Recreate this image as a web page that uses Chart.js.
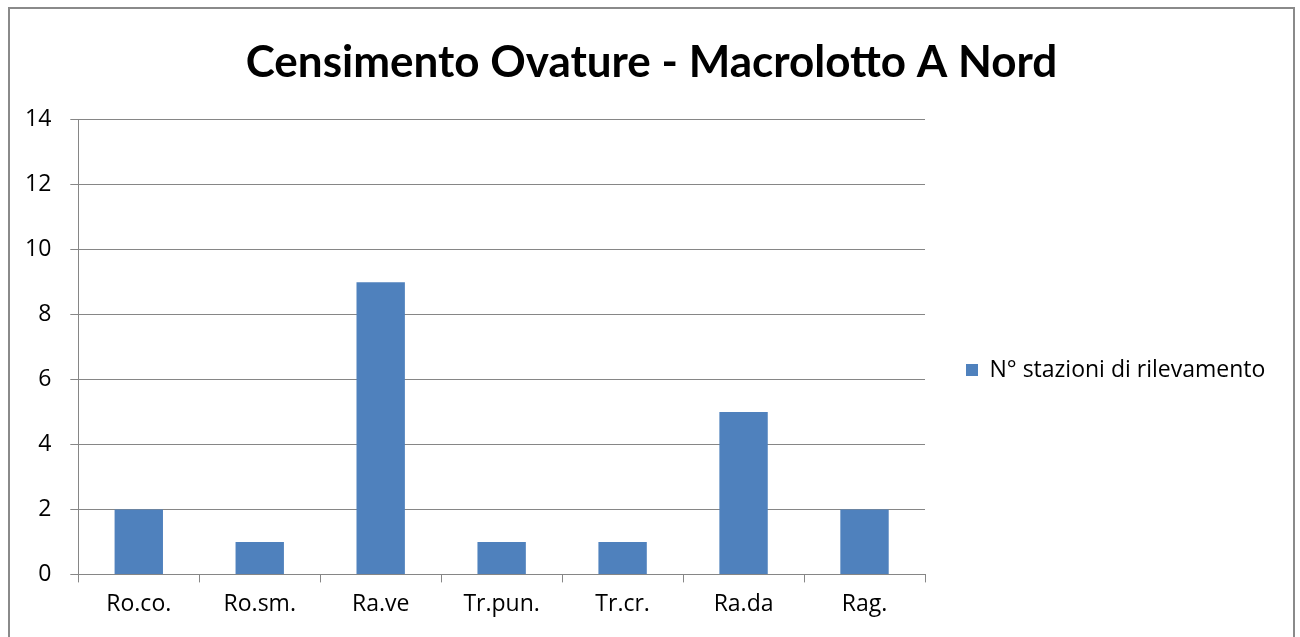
<!DOCTYPE html>
<html>
<head>
<meta charset="utf-8">
<script src="https://cdn.jsdelivr.net/npm/chart.js@4"></script>
<style>
  html, body { margin: 0; padding: 0; background: #fff; }
  #wrap { position: relative; width: 1300px; height: 637px; }
</style>
</head>
<body>
<div id="wrap"><canvas id="grafico" width="1300" height="637"></canvas></div>
<script>
// dati del censimento
const categorie = ["Ro.co.", "Ro.sm.", "Ra.ve", "Tr.pun.", "Tr.cr.", "Ra.da", "Rag."];
const stazioni = [2, 1, 9, 1, 1, 5, 2];
const nomeSerie = "N° stazioni di rilevamento";
const titolo = "Censimento Ovature - Macrolotto A Nord";

const grigio = "#868686";
const font = "'Open Sans', 'Noto Sans', sans-serif";

// cornice esterna del grafico
const cornice = {
  id: "cornice",
  afterDraw: function (chart) {
    const ctx = chart.ctx;
    ctx.save();
    ctx.strokeStyle = "#8a8a8a";
    ctx.lineWidth = 2;
    ctx.strokeRect(9, 8, 1285, 700);
    ctx.restore();
  }
};

// legenda: larghezza fissa e spostata come nell'originale
const legendaFissa = {
  id: "legendaFissa",
  afterInit: function (chart) {
    const leg = chart.legend;
    const fitOrig = leg.fit.bind(leg);
    leg.fit = function () {
      fitOrig();
      this.width = 350;
    };
  },
  afterLayout: function (chart) {
    const leg = chart.legend;
    leg.left += 31;
    leg.right += 31;
    leg.top += 57;
    leg.bottom += 57;
    // titolo centrato sulla cornice
    const tit = chart.titleBlock;
    tit.left += 11;
    tit.right += 11;
  }
};

Chart.defaults.font.family = font;
Chart.defaults.color = "#000";

new Chart(document.getElementById("grafico"), {
  type: "bar",
  data: {
    labels: categorie,
    datasets: [{
      label: nomeSerie,
      data: stazioni,
      backgroundColor: "#4F81BD",
      borderWidth: 0,
      barPercentage: 0.5,
      categoryPercentage: 0.8
    }]
  },
  options: {
    responsive: false,
    animation: false,
    layout: { padding: { left: 6, right: 25, top: 0, bottom: 11 } },
    plugins: {
      title: {
        display: true,
        text: titolo,
        font: { size: 44, weight: "bold", family: "Lato, sans-serif" },
        color: "#000",
        padding: { top: 36, bottom: 31 }
      },
      legend: {
        position: "right",
        labels: {
          boxWidth: 12,
          boxHeight: 12,
          font: { size: 23 },
          color: "#000",
          padding: 10
        }
      },
      tooltip: { enabled: false }
    },
    scales: {
      x: {
        grid: { display: true, drawOnChartArea: false, drawTicks: true, tickLength: 8, color: grigio, offset: true },
        border: { color: grigio, width: 1 },
        ticks: { font: { size: 23 }, color: "#000", padding: 8, maxRotation: 0 }
      },
      y: {
        min: 0,
        max: 14,
        ticks: { stepSize: 2, font: { size: 23 }, color: "#000", padding: 19 },
        grid: { color: grigio, tickLength: 8, drawTicks: true },
        border: { color: grigio, width: 1 }
      }
    }
  },
  plugins: [cornice, legendaFissa]
});
</script>
</body>
</html>
